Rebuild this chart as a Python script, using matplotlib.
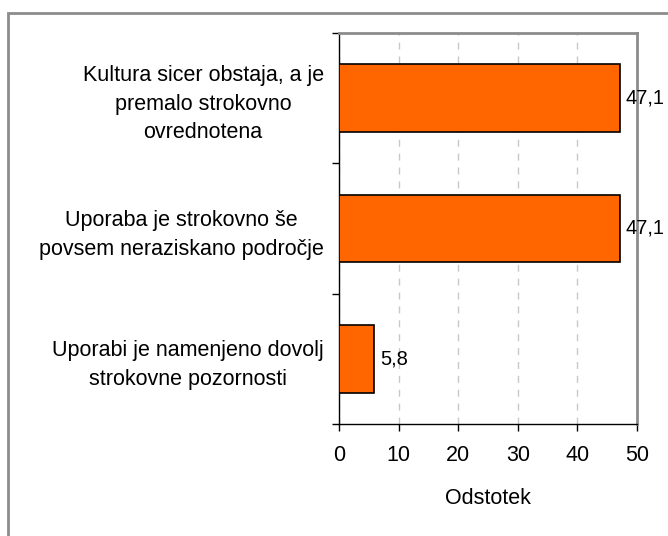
import matplotlib.pyplot as plt
import matplotlib.patches as patches
import numpy as np

plt.rcParams['font.family'] = ['Liberation Sans', 'DejaVu Sans']

kategorije = ['Kultura sicer obstaja, a je\npremalo strokovno\novrednotena',
              'Uporaba je strokovno še\npovsem neraziskano področje',
              'Uporabi je namenjeno dovolj\nstrokovne pozornosti']
odstotki = [47.1, 47.1, 5.8]
oznake = ['47,1', '47,1', '5,8']
xticks = [0, 10, 20, 30, 40, 50]

fig = plt.figure(figsize=(6.68, 5.36), dpi=100)
ax = fig.add_axes([339/668, 1-424/536, 298/668, 391/536])

y = np.arange(len(kategorije))
ax.barh(y, odstotki, height=0.52, color='#FF6600', edgecolor='black', linewidth=1.2, zorder=3)

for yi, v, t in zip(y, odstotki, oznake):
    ax.annotate(t, (v, yi), xytext=(4.5, 0), textcoords='offset points',
                ha='left', va='center', fontsize=14.5, zorder=4)

ax.set_xlim(0, 50)
ax.set_ylim(len(kategorije) - 0.5, -0.5)
ax.set_xticks(xticks)
ax.set_xticklabels([str(v) for v in xticks], fontsize=15.5)
ax.tick_params(axis='x', direction='out', length=5, width=1, pad=10, colors='black')

# kategorije med oznakami, kljukice na mejah
ax.set_yticks(np.arange(-0.5, len(kategorije)), labels=[''] * (len(kategorije) + 1))
ax.set_yticks(y, minor=True)
ax.set_yticklabels(kategorije, minor=True, fontsize=15.5, ha='right', multialignment='center')
for lbl in ax.get_yticklabels(minor=True):
    lbl.set_linespacing(1.47)
ax.tick_params(axis='y', which='major', direction='out', length=5, width=1)
ax.tick_params(axis='y', which='minor', length=0, pad=11)

ax.xaxis.grid(True, color='#C8C8C8', linestyle=(0, (5, 5)), linewidth=1, zorder=0)
ax.set_xlabel('Odstotek', fontsize=15.5, labelpad=16)

for s in ['top', 'right']:
    ax.spines[s].set_color('#8C8C8C')
    ax.spines[s].set_linewidth(2)
for s in ['left', 'bottom']:
    ax.spines[s].set_color('black')
    ax.spines[s].set_linewidth(1)

# okvir grafikona
fig.patches.append(patches.Rectangle((8/668, -0.1), 1.2, 1.1 - 13/536, transform=fig.transFigure,
                                     fill=False, edgecolor='#8C8C8C', linewidth=2))

fig.savefig('out.png', dpi=100)
